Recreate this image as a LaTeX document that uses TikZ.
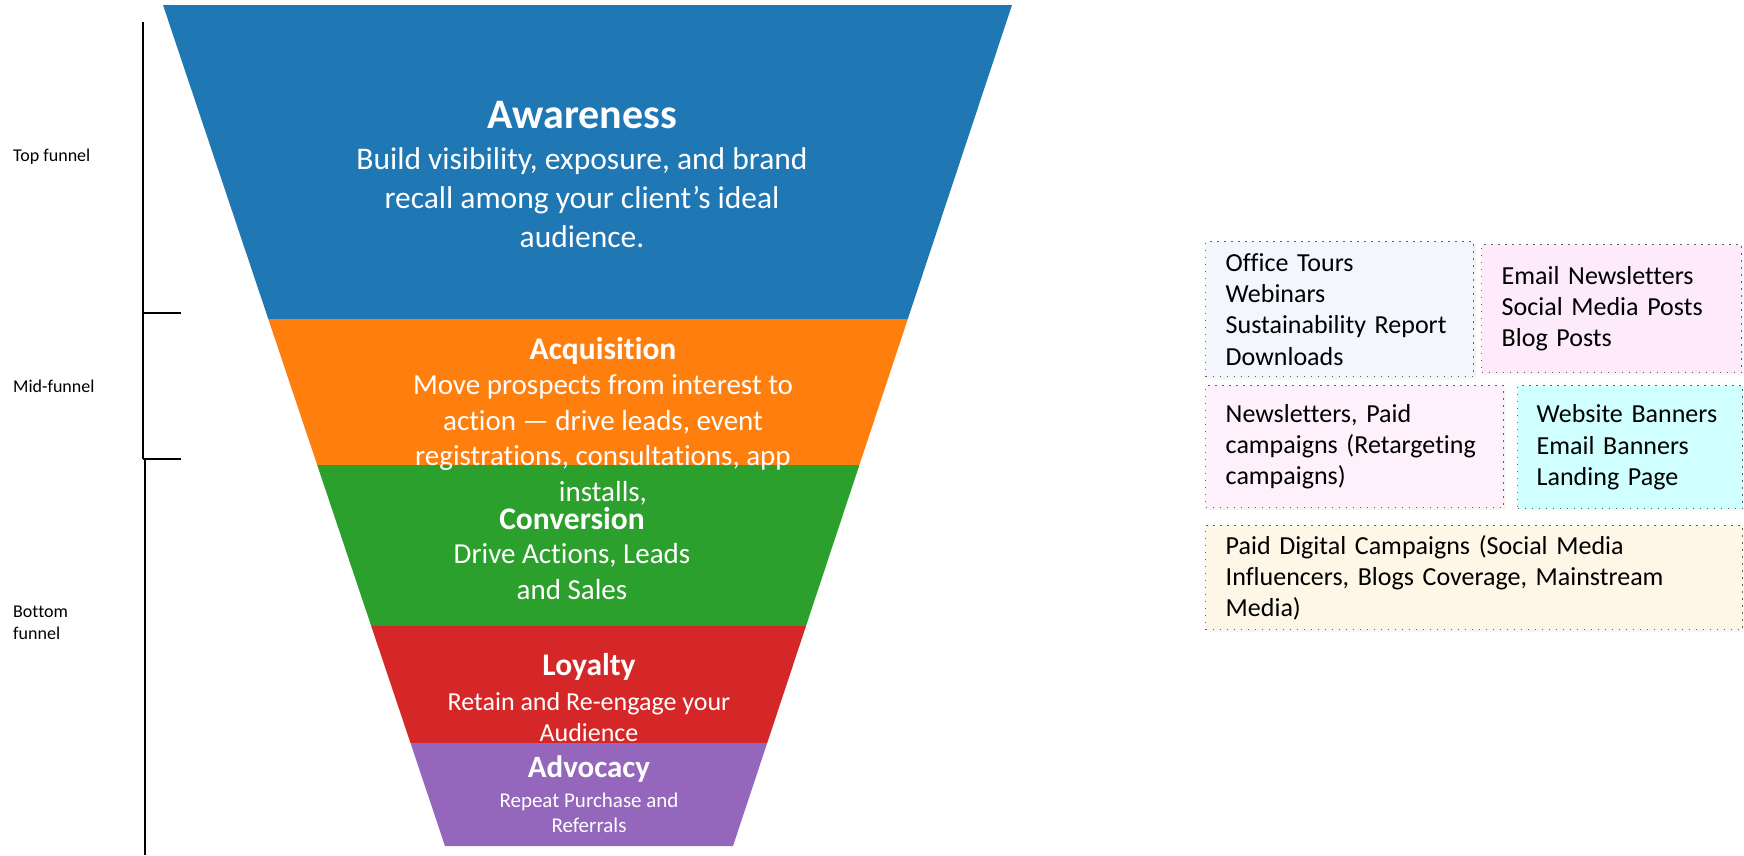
\documentclass[tikz,border=0pt]{standalone}
\usepackage{fontspec}
\setmainfont{Carlito}[Ligatures=NoCommon]
\usetikzlibrary{shadows}
\definecolor{fblue}{HTML}{1F77B4}
\definecolor{forange}{HTML}{FF7F0E}
\definecolor{fgreen}{HTML}{2CA02C}
\definecolor{fred}{HTML}{D62728}
\definecolor{fpurple}{HTML}{9467BD}
\definecolor{boxA}{HTML}{F3F6FD}
\definecolor{boxB}{HTML}{FDEAFB}
\definecolor{boxC}{HTML}{FEF1FB}
\definecolor{boxD}{HTML}{CFFFFF}
\definecolor{boxE}{HTML}{FEF6E6}
\definecolor{dotgray}{HTML}{606060}
\begin{document}
\begin{tikzpicture}[x=1pt,y=-1pt,
  ttl/.style={text=white,inner sep=0pt,align=center},
  bodytxt/.style={text=white,inner sep=0pt,align=center},
  sidelbl/.style={text=black,inner sep=0pt,align=left,anchor=west,font=\fontsize{18}{22}\selectfont},
  infobox/.style={draw=dotgray,line width=1.4pt,dash pattern=on 1.4pt off 5.6pt,
    inner xsep=20pt,inner ysep=0pt,align=left,anchor=north west,
    font=\fontsize{26}{31.3}\selectfont,text=black,
    drop shadow={shadow xshift=2pt,shadow yshift=-2pt,opacity=0.08}},
  brk/.style={line width=2pt,black}]
\useasboundingbox (0,0) rectangle (1744,855);
\fill[white] (0,0) rectangle (1744,855);

% funnel layers
\fill[fblue] (163,5) -- (1012,5) -- (907.8,319) -- (268.3,319) -- cycle;
\fill[forange] (268.3,319) -- (907.8,319) -- (859.4,465) -- (317.2,465) -- cycle;
\fill[fgreen] (317.2,465) -- (859.4,465) -- (806,626) -- (371.2,626) -- cycle;
\fill[fred] (371.2,626) -- (806,626) -- (767.2,743) -- (410.5,743) -- cycle;
\fill[fpurple] (410.5,743) -- (767.2,743) -- (733,846) -- (445,846) -- cycle;

% funnel texts
\node[ttl,font=\fontsize{42}{50}\selectfont\bfseries] (awT) at (582,115) {Awareness};
\node[bodytxt,font=\fontsize{31.5}{39}\selectfont] (awB) at (582,198)
  {Build visibility, exposure, and brand\\recall among your client’s ideal\\audience.};
\node[ttl,font=\fontsize{31.5}{38}\selectfont\bfseries] (acT) at (603,351) {Acquisition};
\node[bodytxt,font=\fontsize{29}{35.5}\selectfont] (acB) at (603,440)
  {Move prospects from interest to\\action — drive leads, event\\registrations, consultations, app\\installs,};
\node[ttl,font=\fontsize{31.5}{38}\selectfont\bfseries] (coT) at (572,519) {Conversion};
\node[bodytxt,font=\fontsize{29}{36}\selectfont] (coB) at (572,572)
  {Drive Actions, Leads\\and Sales};
\node[ttl,font=\fontsize{31.5}{38}\selectfont\bfseries] (loT) at (589,667) {Loyalty};
\node[bodytxt,font=\fontsize{26}{31}\selectfont] (loB) at (589,717.5)
  {Retain and Re-engage your\\Audience};
\node[ttl,font=\fontsize{31}{38}\selectfont\bfseries] (adT) at (589,769) {Advocacy};
\node[bodytxt,font=\fontsize{21}{25}\selectfont] (adB) at (589,812.5)
  {Repeat Purchase and\\Referrals};

% side labels
\node[sidelbl] (top) at (13,157) {Top funnel};
\node[sidelbl] (mid) at (13,386) {Mid-funnel};
\node[sidelbl] (bot) at (13,623) {Bottom\\funnel};

% brackets
\coordinate (b1) at (143,22);
\coordinate (b2) at (143,313);
\coordinate (t1) at (181,313);
\coordinate (b3) at (143,459);
\coordinate (t2) at (181,459);
\coordinate (b4) at (144.5,459);
\coordinate (b5) at (144.5,855);
\draw[brk] (b1) -- (b2);
\draw[brk] (b2) -- (t1);
\draw[brk] (b2) -- (b3);
\draw[brk] (b3) -- (t2);
\draw[brk] (b4) -- (b5);

% channel boxes
\node[infobox,fill=boxA,minimum width=268pt,minimum height=135pt,text width=228pt] (bx1) at (1205,241)
  {Office Tours\\Webinars\\Sustainability Report\\Downloads};
\node[infobox,fill=boxB,minimum width=260pt,minimum height=128pt,text width=220pt] (bx2) at (1481,244)
  {Email Newsletters\\Social Media Posts\\Blog Posts};
\node[infobox,fill=boxC,minimum width=298pt,minimum height=122pt,text width=258pt] (bx3) at (1205,385)
  {Newsletters, Paid\\campaigns (Retargeting\\campaigns)};
\node[infobox,fill=boxD,minimum width=225pt,minimum height=123pt,text width=187pt,inner xsep=19pt] (bx4) at (1517,385)
  {Website Banners\\Email Banners\\Landing Page};
\node[infobox,fill=boxE,minimum width=537pt,minimum height=104pt,text width=497pt] (bx5) at (1205,525)
  {Paid Digital Campaigns (Social Media\\Influencers, Blogs Coverage, Mainstream\\Media)};
\end{tikzpicture}
\end{document}
